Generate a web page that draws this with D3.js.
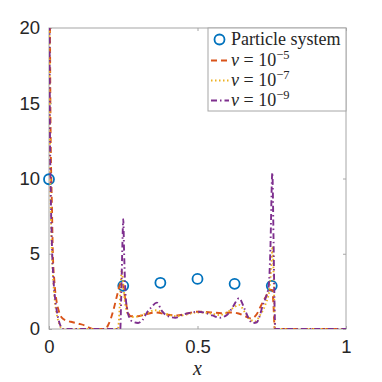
<!DOCTYPE html>
<html>
<head>
<meta charset="utf-8">
<script src="https://cdn.jsdelivr.net/npm/d3@7"></script>
<style>
  body { margin: 0; background: #fff; }
  svg { display: block; }
</style>
</head>
<body>
<svg width="382" height="382"></svg>
<script>
// particle system
const particleX = [0, 0.25, 0.375, 0.5, 0.625, 0.75];
const particleY = [9.95, 2.87, 3.07, 3.33, 3.0, 2.87];

// nu = 1e-5
const nu5X = [0, 0.005, 0.01, 0.013, 0.018, 0.025, 0.033, 0.043, 0.06, 0.08, 0.1, 0.125, 0.14, 0.15, 0.19, 0.2, 0.21, 0.22, 0.23, 0.24, 0.247, 0.255, 0.265, 0.275, 0.3, 0.33, 0.36, 0.4, 0.43, 0.47, 0.5, 0.55, 0.58, 0.61, 0.635, 0.66, 0.68, 0.7, 0.71, 0.73, 0.745, 0.752, 0.756, 0.76, 1];
const nu5Y = [40, 14, 8, 5, 3.2, 1.9, 1.2, 0.75, 0.55, 0.45, 0.35, 0.2, 0.05, 0, 0, 0.3, 0.8, 1.5, 2.3, 3.0, 3.1, 2.2, 1.2, 0.85, 0.85, 1.0, 1.1, 0.95, 0.9, 1.05, 1.15, 1.1, 1.05, 1.1, 1.05, 0.85, 0.7, 1.0, 1.4, 2.15, 2.6, 2.6, 1.5, 0, 0];

// nu = 1e-7
const nu7X = [0, 0.003, 0.006, 0.01, 0.015, 0.02, 0.028, 0.036, 0.045, 0.232, 0.238, 0.242, 0.245, 0.25, 0.255, 0.263, 0.27, 0.285, 0.31, 0.33, 0.355, 0.37, 0.395, 0.43, 0.47, 0.5, 0.54, 0.575, 0.6, 0.62, 0.64, 0.66, 0.68, 0.695, 0.71, 0.73, 0.742, 0.748, 0.753, 0.757, 0.761, 1];
const nu7Y = [40, 13, 8, 5, 3, 1.8, 0.8, 0.25, 0, 0, 1.5, 3.2, 3.9, 3.0, 1.9, 1.1, 0.85, 0.8, 0.9, 1.05, 1.25, 1.2, 1.0, 0.85, 1.0, 1.1, 1.05, 0.93, 1.1, 1.4, 1.6, 1.1, 0.6, 0.5, 0.9, 1.7, 2.6, 4, 5.5, 3, 0, 0];

// nu = 1e-9
const nu9X = [0, 0.003, 0.006, 0.01, 0.015, 0.022, 0.03, 0.038, 0.045, 0.24, 0.243, 0.247, 0.25, 0.253, 0.257, 0.263, 0.27, 0.28, 0.3, 0.315, 0.33, 0.345, 0.363, 0.38, 0.4, 0.425, 0.45, 0.48, 0.5, 0.52, 0.55, 0.575, 0.6, 0.62, 0.64, 0.655, 0.67, 0.685, 0.7, 0.71, 0.72, 0.73, 0.74, 0.745, 0.752, 0.756, 0.759, 0.762, 1];
const nu9Y = [40, 14, 9, 5.5, 3.3, 1.8, 0.8, 0.25, 0, 0, 2, 5.5, 7.3, 5, 2.6, 1.3, 0.8, 0.5, 0.4, 0.6, 1.1, 1.45, 1.75, 1.2, 0.85, 0.75, 0.95, 1.1, 1.15, 1.1, 0.9, 0.75, 0.95, 1.5, 2.05, 1.5, 0.8, 0.4, 0.45, 0.9, 1.6, 2.1, 2.9, 5, 10.4, 6, 2, 0, 0];

const xTicks = [0, 0.5, 1];
const yTicks = [0, 5, 10, 15, 20];

const series = [
  {xs: nu5X, ys: nu5Y, color: "#D95319", dash: "6,4", label: "\u22125"},
  {xs: nu7X, ys: nu7Y, color: "#EDB120", dash: "1.5,2.5", label: "\u22127"},
  {xs: nu9X, ys: nu9Y, color: "#7E2F8E", dash: "6,3,1.5,3", label: "\u22129"}
];

const svg = d3.select("svg");
const pL = 49, pR = 346, pT = 28, pB = 329;
const axisCol = "#a6a6a6";
const textCol = "#262626";

const x = d3.scaleLinear().domain([0, 1]).range([pL, pR]);
const y = d3.scaleLinear().domain([0, 20]).range([pB, pT]);

svg.append("clipPath").attr("id", "clip")
  .append("rect").attr("x", pL).attr("y", pT)
  .attr("width", pR - pL).attr("height", pB - pT);

// axes
const gx = svg.append("g").attr("transform", "translate(0," + pB + ")")
  .call(d3.axisBottom(x).tickValues(xTicks).tickSizeInner(-3).tickSizeOuter(0).tickPadding(11)
    .tickFormat(d3.format("")));
const gy = svg.append("g").attr("transform", "translate(" + pL + ",0)")
  .call(d3.axisLeft(y).tickValues(yTicks).tickSizeInner(-3).tickSizeOuter(0).tickPadding(9));
const gt = svg.append("g").attr("transform", "translate(0," + pT + ")")
  .call(d3.axisTop(x).tickValues(xTicks).tickSizeInner(-3).tickSizeOuter(0).tickFormat(""));
const gr = svg.append("g").attr("transform", "translate(" + pR + ",0)")
  .call(d3.axisRight(y).tickValues(yTicks).tickSizeInner(-3).tickSizeOuter(0).tickFormat(""));

[gx, gy, gt, gr].forEach(g => {
  g.select(".domain").remove();
  g.selectAll("line").attr("stroke", axisCol);
  g.selectAll("text").attr("fill", textCol)
    .style("font-family", "Liberation Sans, Arial, sans-serif")
    .style("font-size", "18.5px");
});

svg.append("rect")
  .attr("x", pL).attr("y", pT)
  .attr("width", pR - pL).attr("height", pB - pT)
  .attr("fill", "none").attr("stroke", axisCol).attr("stroke-width", 1);

// particle circles (markers are not clipped)
svg.append("g").selectAll("circle")
  .data(particleX)
  .enter().append("circle")
  .attr("cx", d => x(d))
  .attr("cy", (d, i) => y(particleY[i]))
  .attr("r", 5)
  .attr("fill", "none")
  .attr("stroke", "#0072BD")
  .attr("stroke-width", 1.8);

// curves
const line = d3.line().curve(d3.curveMonotoneX);
const lines = svg.append("g").attr("clip-path", "url(#clip)");
series.forEach(s => {
  lines.append("path")
    .attr("d", line(s.xs.map((v, i) => [x(v), y(s.ys[i])])))
    .attr("fill", "none")
    .attr("stroke", s.color)
    .attr("stroke-width", 1.9)
    .attr("stroke-dasharray", s.dash);
});

// x label
svg.append("text")
  .attr("x", x(0.5)).attr("y", 375)
  .attr("text-anchor", "middle")
  .style("font-family", "Liberation Serif, serif")
  .style("font-style", "italic")
  .style("font-size", "20px")
  .attr("fill", textCol)
  .text("x");

// legend
const lg = svg.append("g");
lg.append("rect")
  .attr("x", 208).attr("y", pT)
  .attr("width", pR - 208).attr("height", 83)
  .attr("fill", "#fff").attr("stroke", axisCol);

lg.append("circle")
  .attr("cx", 219.5).attr("cy", 39.5).attr("r", 5)
  .attr("fill", "none").attr("stroke", "#0072BD").attr("stroke-width", 1.8);
lg.append("text")
  .attr("x", 231).attr("y", 45)
  .style("font-family", "Liberation Serif, serif")
  .style("font-size", "18px")
  .attr("fill", textCol)
  .text("Particle system");

series.forEach((s, i) => {
  const cy = 60.5 + i * 20;
  lg.append("line")
    .attr("x1", 211).attr("x2", 229)
    .attr("y1", cy).attr("y2", cy)
    .attr("stroke", s.color).attr("stroke-width", 1.8)
    .attr("stroke-dasharray", s.dash);
  const t = lg.append("text")
    .attr("x", 231).attr("y", cy + 5.5)
    .style("font-family", "Liberation Serif, serif")
    .style("font-size", "18px")
    .attr("fill", textCol);
  t.append("tspan").style("font-style", "italic").text("\u03bd");
  t.append("tspan").text(" = 10");
  t.append("tspan").attr("dy", -7.5).style("font-size", "12.5px").text(s.label);
});
</script>
</body>
</html>
